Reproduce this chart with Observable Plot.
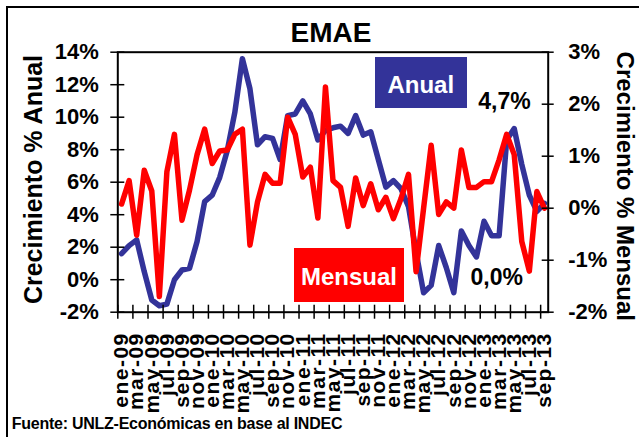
<!DOCTYPE html>
<html><head><meta charset="utf-8">
<script src="https://cdn.jsdelivr.net/npm/d3@7"></script>
<script src="https://cdn.jsdelivr.net/npm/@observablehq/plot@0.6"></script>
<style>
html,body{margin:0;padding:0;background:#fff;}
#wrap{position:relative;width:639px;height:437px;overflow:hidden;background:#fff;font-family:"Liberation Sans",Arial,sans-serif;font-weight:bold;}
#wrap svg{position:absolute;left:0;top:0;}
.border{position:absolute;left:6px;top:6px;width:700px;height:500px;border:2px solid #000;box-sizing:border-box;}
.t{position:absolute;white-space:nowrap;line-height:1;text-align:center;}
.box{position:absolute;}
[aria-label="x-axis tick label"] text{letter-spacing:1.5px;}
</style></head>
<body><div id="wrap"><div class="border"></div></div>
<script>
const months = ["ene-09","feb-09","mar-09","abr-09","may-09","jun-09","jul-09","ago-09","sep-09","oct-09","nov-09","dic-09",
"ene-10","feb-10","mar-10","abr-10","may-10","jun-10","jul-10","ago-10","sep-10","oct-10","nov-10","dic-10",
"ene-11","feb-11","mar-11","abr-11","may-11","jun-11","jul-11","ago-11","sep-11","oct-11","nov-11","dic-11",
"ene-12","feb-12","mar-12","abr-12","may-12","jun-12","jul-12","ago-12","sep-12","oct-12","nov-12","dic-12",
"ene-13","feb-13","mar-13","abr-13","may-13","jun-13","jul-13","ago-13","sep-13"];
// Crecimiento % anual (eje izquierdo)
const anual = [1.6,2.1,2.45,0.5,-1.25,-1.6,-1.5,0.0,0.6,0.7,2.35,4.8,
5.2,6.3,7.95,10.3,13.6,11.75,8.3,8.8,8.7,7.4,10.1,10.2,
11.0,10.2,8.6,9.2,9.35,9.45,9.0,10.1,8.9,9.1,7.4,5.7,
6.1,5.6,4.5,1.7,-0.8,-0.35,2.1,0.75,-0.8,3.0,2.1,1.4,
3.6,2.7,2.7,8.6,9.3,7.1,5.2,4.2,4.7];
// Crecimiento % mensual (eje derecho)
const mensual = [0.08,0.53,-0.52,0.73,0.33,-1.70,0.70,1.42,-0.23,0.35,1.03,1.52,
0.86,1.1,1.12,1.42,1.52,-0.71,0.12,0.65,0.48,0.48,1.75,1.42,
0.60,0.79,-0.19,2.33,0.53,0.40,-0.35,0.58,0.05,0.47,-0.03,0.21,
-0.20,0.18,0.65,-1.22,0.0,1.21,-0.12,0.12,0.0,1.12,0.40,0.40,
0.51,0.51,0.93,1.42,1.03,-0.64,-1.21,0.32,0.0];
const leftTicks = [-2,0,2,4,6,8,10,12,14];
const rightTicks = [-2,-1,0,1,2,3];
const seriesNames = ["Anual","Mensual"];
const seriesColors = ["#333399","#ff0000"];
const lastLabels = ["4,7%","0,0%"];
const title = "EMAE";
const yTitles = ["Crecimiento % Anual","Crecimiento % Mensual"];
const source = "Fuente: UNLZ-Económicas en base al INDEC";

// right axis [-2,3] mapped onto left axis [-2,14]
const toLeft = r => -2 + (r + 2) * 16 / 5;
const fromLeft = l => Math.round((l + 2) * 5 / 16 - 2);

const labelIdx = months.map((m, i) => i).filter(i => i % 2 === 0);
const boundaries = labelIdx.map(i => i - 0.5);

const font = {fontSize: 22, fontWeight: "bold"};
const chart = Plot.plot({
  width: 639, height: 437,
  marginLeft: 117.3, marginRight: 91.3, marginTop: 51.7, marginBottom: 125.3,
  style: {fontFamily: '"Liberation Sans", Arial, sans-serif', background: "transparent", color: "#000", overflow: "visible"},
  x: {type: "linear", domain: [-0.5, 56.5]},
  y: {domain: [-2, 14]},
  marks: [
    Plot.lineY(anual, {y: d => d, stroke: seriesColors[0], strokeWidth: 5.5, strokeLinejoin: "round"}),
    Plot.lineY(mensual, {y: d => toLeft(d), stroke: seriesColors[1], strokeWidth: 5.5, strokeLinejoin: "round"}),
    Plot.frame({stroke: "#000", strokeWidth: 2}),
    Plot.axisY(leftTicks, {anchor: "left", tickSize: 14, dx: 7, fill: "none", strokeWidth: 1.5}),
    Plot.axisY(leftTicks, {anchor: "left", tickSize: 0, tickPadding: 19, tickFormat: d => d + "%", ...font}),
    Plot.axisY(rightTicks.map(toLeft), {anchor: "right", tickSize: 12, dx: -7, fill: "none", strokeWidth: 1.5}),
    Plot.axisY(rightTicks.map(toLeft), {anchor: "right", tickSize: 0, tickPadding: 20, tickFormat: d => fromLeft(d) + "%", ...font}),
    Plot.axisX(boundaries, {anchor: "bottom", tickSize: 14, dy: -7, fill: "none", strokeWidth: 1.5}),
    Plot.axisX(labelIdx, {anchor: "bottom", tickSize: 0, tickPadding: 20, tickRotate: -90, textAnchor: "end", tickFormat: i => months[i], fontSize: 21, fontWeight: "bold"}),
    Plot.text([yTitles[0]], {text: d => d, frameAnchor: "left", textAnchor: "middle", lineAnchor: "middle", rotate: -90, dx: -84, dy: -2.7, fontSize: 25, fontWeight: "bold"}),
    Plot.text([yTitles[1]], {text: d => d, frameAnchor: "right", textAnchor: "middle", lineAnchor: "middle", rotate: 90, dx: 76.5, dy: 4.1, fontSize: 24, fontWeight: "bold"})
  ]
});
const wrap = document.getElementById("wrap");
wrap.appendChild(chart);

function addBox(left, top, w, h, color) {
  const b = document.createElement("div");
  b.className = "box";
  Object.assign(b.style, {left: left + "px", top: top + "px", width: w + "px", height: h + "px", background: color});
  wrap.appendChild(b);
}
function addText(txt, cx, baseline, fs, color, extra) {
  const d = document.createElement("div");
  d.className = "t";
  d.textContent = txt;
  Object.assign(d.style, {left: (cx - 200) + "px", width: "400px", top: (baseline - 0.8465 * fs) + "px", fontSize: fs + "px", color: color}, extra || {});
  wrap.appendChild(d);
}
addText(title, 331, 43, 28, "#000");
addBox(375, 56.7, 91.7, 51, seriesColors[0]);
addText(seriesNames[0], 420.8, 93.3, 24, "#fff");
addBox(294, 248.3, 110, 53.4, seriesColors[1]);
addText(seriesNames[1], 349, 285, 24, "#fff");
addText(lastLabels[0], 504.5, 109.3, 23, "#000");
addText(lastLabels[1], 496.7, 285, 23, "#000");
const f = document.createElement("div");
f.className = "t";
f.textContent = source;
Object.assign(f.style, {left: "11.7px", top: (430 - 0.8465 * 16) + "px", fontSize: "16px", textAlign: "left", letterSpacing: "-0.25px"});
wrap.appendChild(f);
</script>
</body></html>
